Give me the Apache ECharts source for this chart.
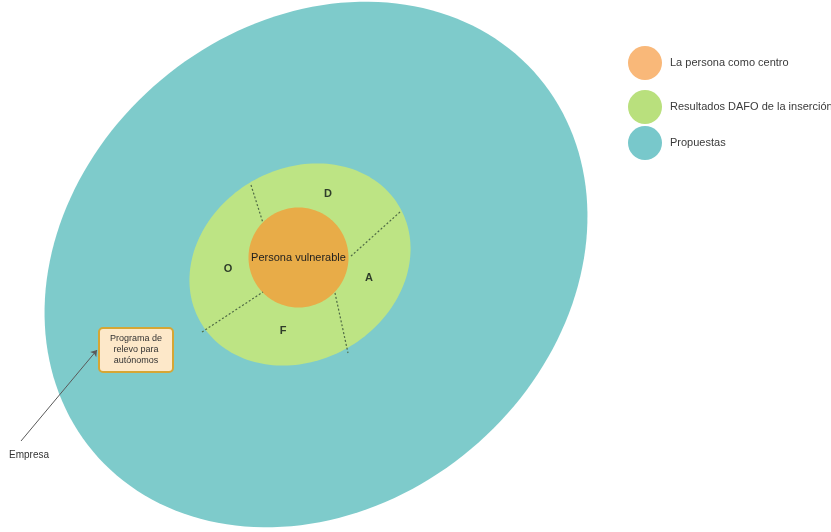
<!DOCTYPE html>
<html>
<head>
<meta charset="utf-8">
<script src="https://cdn.jsdelivr.net/npm/echarts@6/dist/echarts.min.js"></script>
<style>
html,body{margin:0;padding:0;background:#fff;}
#chart{width:831px;height:532px;}
</style>
</head>
<body>
<div id="chart"></div>
<script>
// ---- data ----
const layerNames = ['Propuestas', 'Resultados DAFO de la inserción', 'La persona como centro'];
const layerCenterX = [316, 300, 298.5];
const layerCenterY = [264.5, 264.5, 257.5];
const layerSemiMajor = [291, 115, 50];
const layerSemiMinor = [241, 96, 50];
const layerTiltDeg = [40, 30, 0];
const centerLabel = 'Persona vulnerable';

const legendOrder = ['La persona como centro', 'Resultados DAFO de la inserción', 'Propuestas'];

const dafoLetters = ['D', 'A', 'F', 'O'];
const dafoX = [328, 369, 283, 228];
const dafoY = [194, 278, 331, 269];

const dividerFromX = [251, 400, 202, 335];
const dividerFromY = [185, 212, 332, 293];
const dividerToX = [263, 350, 263, 348];
const dividerToY = [223, 257, 292, 353];

const proposalLabel = 'Programa de\nrelevo para\nautónomos';
const proposalBox = [99, 328, 173, 372]; // x1,y1,x2,y2
const actorLabel = 'Empresa';
const actorPos = [29, 455];
const arrowFrom = [21, 441];
const arrowTo = [97, 350];

// ---- styles ----
const FONT = 'Liberation Sans, Arial, sans-serif';
const layerColors = ['#7ecbcb', '#bde484', '#e8ac48'];
const legendColors = ['#f9b879', '#b9e07d', '#78c8cb'];

const chart = echarts.init(document.getElementById('chart'));

function ellipseRender(i) {
  return function (params, api) {
    const t = layerTiltDeg[i] * Math.PI / 180;
    const pts = [];
    for (let k = 0; k < 180; k++) {
      const u = k / 180 * Math.PI * 2;
      const a = layerSemiMajor[i], b = layerSemiMinor[i];
      const x = layerCenterX[i] + a * Math.cos(u) * Math.cos(t) + b * Math.sin(u) * Math.sin(t);
      const y = layerCenterY[i] - a * Math.cos(u) * Math.sin(t) + b * Math.sin(u) * Math.cos(t);
      pts.push(api.coord([x, y]));
    }
    const children = [{ type: 'polygon', shape: { points: pts }, style: { fill: layerColors[i] } }];
    if (i === 2) {
      const c = api.coord([layerCenterX[i], layerCenterY[i]]);
      children.push({
        type: 'text',
        style: { text: centerLabel, x: c[0], y: c[1], align: 'center', verticalAlign: 'middle',
          fontSize: 11, fontFamily: FONT, fill: '#1e1e1e' }
      });
    }
    return { type: 'group', children: children };
  };
}

const series = layerNames.map((n, i) => ({
  name: n,
  type: 'custom',
  coordinateSystem: 'cartesian2d',
  silent: true,
  z: 2 + i,
  itemStyle: { color: legendColors[legendOrder.indexOf(n)] },
  data: [[layerCenterX[i], layerCenterY[i]]],
  renderItem: ellipseRender(i)
}));

series.push({
  type: 'custom',
  coordinateSystem: 'cartesian2d',
  silent: true,
  z: 4,
  data: dividerFromX.map((x, i) => [x, dividerFromY[i], dividerToX[i], dividerToY[i]]),
  renderItem: function (params, api) {
    const p1 = api.coord([api.value(0), api.value(1)]);
    const p2 = api.coord([api.value(2), api.value(3)]);
    return { type: 'line', shape: { x1: p1[0], y1: p1[1], x2: p2[0], y2: p2[1] },
      style: { stroke: '#4f6a45', lineWidth: 1.2, lineDash: [2, 2] } };
  }
});

series.push({
  type: 'custom',
  coordinateSystem: 'cartesian2d',
  silent: true,
  z: 5,
  data: dafoLetters.map((l, i) => [dafoX[i], dafoY[i], l]),
  renderItem: function (params, api) {
    const p = api.coord([api.value(0), api.value(1)]);
    return { type: 'text', style: { text: dafoLetters[params.dataIndex], x: p[0], y: p[1],
      align: 'center', verticalAlign: 'middle', fontSize: 11, fontWeight: 'bold', fontFamily: FONT, fill: '#2f3d2a' } };
  }
});

series.push({
  type: 'custom',
  coordinateSystem: 'cartesian2d',
  silent: true,
  z: 6,
  data: [proposalBox],
  renderItem: function (params, api) {
    const p1 = api.coord([api.value(0), api.value(1)]);
    const p2 = api.coord([api.value(2), api.value(3)]);
    return { type: 'group', children: [
      { type: 'rect', shape: { x: p1[0], y: p1[1], width: p2[0] - p1[0], height: p2[1] - p1[1], r: 4 },
        style: { fill: '#fde8c9', stroke: '#d6a634', lineWidth: 2 } },
      { type: 'text', style: { text: proposalLabel, x: (p1[0] + p2[0]) / 2, y: (p1[1] + p2[1]) / 2,
        align: 'center', verticalAlign: 'middle', fontSize: 9, lineHeight: 11, fontFamily: FONT, fill: '#333' } }
    ] };
  }
});

series.push({
  type: 'custom',
  coordinateSystem: 'cartesian2d',
  silent: true,
  z: 6,
  data: [actorPos],
  renderItem: function (params, api) {
    const p = api.coord([api.value(0), api.value(1)]);
    return { type: 'text', style: { text: actorLabel, x: p[0], y: p[1], align: 'center', verticalAlign: 'middle',
      fontSize: 10, fontFamily: FONT, fill: '#333' } };
  }
});

series.push({
  type: 'lines',
  coordinateSystem: 'cartesian2d',
  silent: true,
  z: 7,
  symbol: ['none', 'arrow'],
  symbolSize: 6,
  lineStyle: { color: '#5a5a5a', width: 1, opacity: 1 },
  data: [{ coords: [arrowFrom, arrowTo] }]
});

const legendTops = [41, 85, 121];
const option = {
  animation: false,
  backgroundColor: '#ffffff',
  grid: { left: 0, right: 0, top: 0, bottom: 0 },
  xAxis: { type: 'value', min: 0, max: 831, show: false },
  yAxis: { type: 'value', min: 0, max: 532, inverse: true, show: false },
  legend: legendOrder.map((n, i) => ({
    data: [{ name: n, itemStyle: { color: legendColors[i] } }],
    orient: 'vertical',
    left: 623,
    top: legendTops[i],
    icon: 'circle',
    itemWidth: 34,
    itemHeight: 34,
    selectedMode: false,
    textStyle: { fontSize: 11, color: '#3a3a3a', fontFamily: FONT, padding: [0, 0, 0, 3] }
  })),
  series: series
};
chart.setOption(option);
</script>
</body>
</html>
